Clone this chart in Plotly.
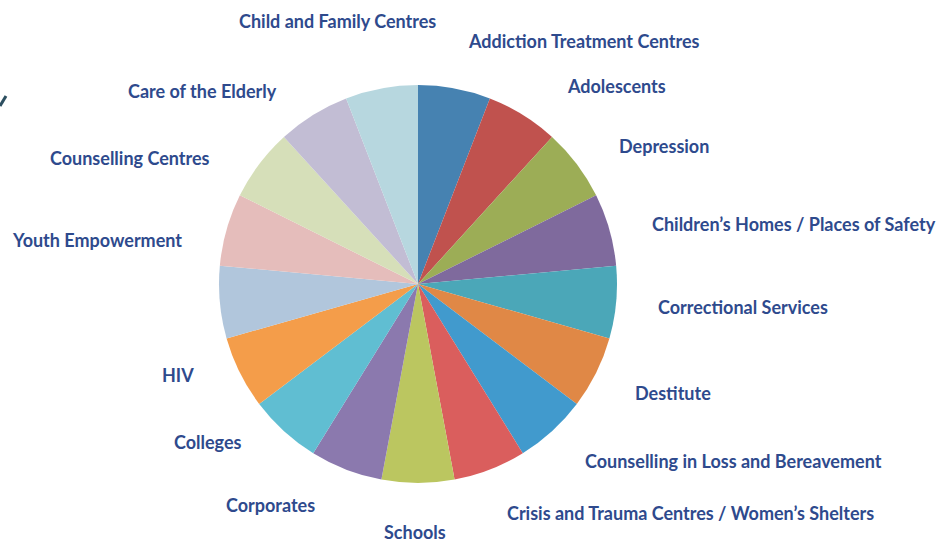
import plotly.graph_objects as go

# Data: 17 equal slices (clockwise from 12 o'clock)
categories = [
    "Addiction Treatment Centres", "Adolescents", "Depression",
    "Children’s Homes / Places of Safety", "Correctional Services", "Destitute",
    "Counselling in Loss and Bereavement", "Crisis and Trauma Centres / Women’s Shelters",
    "Schools", "Corporates", "Colleges", "HIV", "Youth Empowerment",
    "Counselling Centres", "Care of the Elderly", "", "Child and Family Centres",
]
values = [1] * 17
colors = [
    "#4682B1", "#C0524E", "#9CAD56", "#7F6A9D", "#4BA7B8", "#E08846",
    "#419ACD", "#DA5E5D", "#BBC660", "#8B79AE", "#60BED2", "#F49D4A",
    "#B1C6DC", "#E5BDBB", "#D6DFB9", "#C2BDD4", "#B7D7DF",
]

# Label text positions in pixels (centre x, centre y) -- label layout only
label_pos = {
    "Child and Family Centres": (337, 21),
    "Addiction Treatment Centres": (583.5, 41),
    "Adolescents": (616, 86),
    "Depression": (664, 146),
    "Children’s Homes / Places of Safety": (794, 224),
    "Correctional Services": (742.5, 307),
    "Destitute": (673, 393),
    "Counselling in Loss and Bereavement": (733.5, 461),
    "Crisis and Trauma Centres / Women’s Shelters": (690.5, 513),
    "Schools": (414.5, 532),
    "Corporates": (270.5, 505),
    "Colleges": (207.5, 442),
    "HIV": (177.5, 375),
    "Youth Empowerment": (97, 240),
    "Counselling Centres": (130, 158),
    "Care of the Elderly": (202, 91),
}

W, H = 952, 542
cx, cy, r = 418, 284, 199

fig = go.Figure(go.Pie(
    labels=categories,
    values=values,
    sort=False,
    direction="clockwise",
    rotation=0,
    marker=dict(colors=colors, line=dict(width=0)),
    textinfo="none",
    hoverinfo="label",
    domain=dict(x=[(cx - r) / W, (cx + r) / W],
                y=[(H - cy - r) / H, (H - cy + r) / H]),
    showlegend=False,
))

annotations = []
for name, (px, py) in label_pos.items():
    annotations.append(dict(
        x=px / W, y=1 - py / H, xref="paper", yref="paper",
        text="<b>" + name + "</b>", showarrow=False,
        xanchor="center", yanchor="middle",
        font=dict(family="Lato, 'Open Sans', sans-serif", size=18, color="#2E4A8D"),
    ))

fig.update_layout(
    width=W, height=H,
    margin=dict(l=0, r=0, t=0, b=0),
    paper_bgcolor="white", plot_bgcolor="white",
    annotations=annotations,
    shapes=[dict(type="line", xref="paper", yref="paper",
                 x0=0 / W, y0=1 - 106 / H, x1=6 / W, y1=1 - 96 / H,
                 line=dict(color="#2D4F60", width=3))],
)

fig.write_html(
    "out.html",
    config={"displayModeBar": False},
    post_script="document.body.style.margin='0';document.body.style.padding='0';document.body.style.overflow='hidden';",
)
